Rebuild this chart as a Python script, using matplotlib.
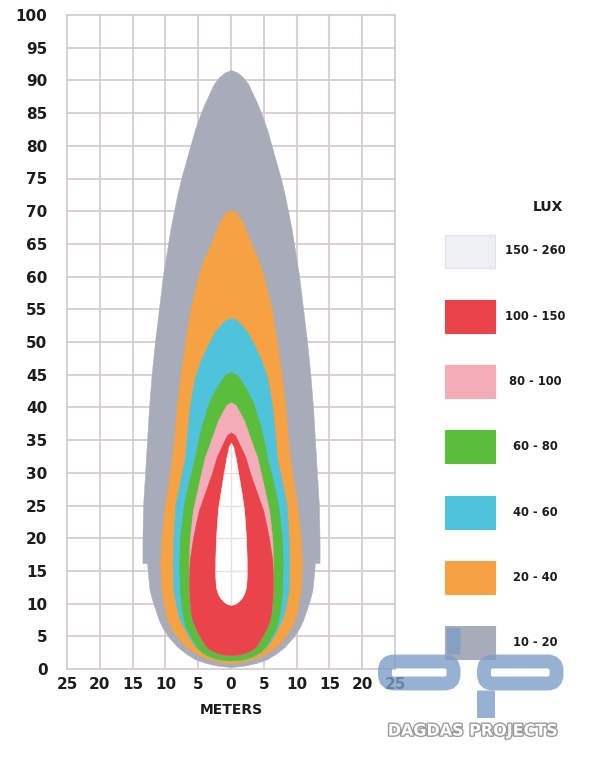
import matplotlib
matplotlib.use("Agg")
import matplotlib.pyplot as plt
import matplotlib.patheffects as pe
from matplotlib.patches import FancyBboxPatch, Rectangle
from matplotlib.transforms import IdentityTransform

# ---------------- data (isolux contours: distance y [m], half-width [m]) ----------------
gray_y  = [91.6, 91.2, 90.5, 89.5, 88.0, 86.5, 85.0, 82.5, 80.0, 77.5, 75.0, 72.5, 70.0, 67.5, 65.0, 62.5, 60.0, 55.0, 50.0, 45.0, 40.0, 35.0, 30.0, 25.0, 20.0, 16.2,
           16.2, 14.0, 12.0, 10.5, 9.0, 7.5, 6.4, 5.0, 3.4, 2.3, 1.5, 0.9, 0.5, 0.3]
gray_hw = [0.0, 1.0, 1.8, 2.6, 3.3, 4.0, 4.6, 5.5, 6.2, 6.9, 7.6, 8.2, 8.7, 9.2, 9.6, 10.0, 10.4, 11.0, 11.6, 12.1, 12.5, 12.8, 13.1, 13.4, 13.5, 13.5,
           12.8, 12.6, 12.4, 12.0, 11.5, 11.0, 10.5, 9.6, 8.2, 6.8, 5.5, 3.8, 2.0, 0.0]

orange_y  = [70.2, 69.8, 69.0, 68.0, 67.0, 65.0, 62.5, 60.0, 57.5, 55.0, 52.5, 50.0, 45.0, 40.0, 35.0, 30.0, 25.0, 20.0, 16.0, 12.0, 9.0, 7.5, 6.4, 5.0, 3.4, 2.5, 1.8, 1.3, 1.0, 0.9]
orange_hw = [0.0, 0.8, 1.4, 1.9, 2.3, 3.1, 4.2, 5.0, 5.6, 6.2, 6.6, 7.0, 7.7, 8.3, 8.7, 9.3, 10.1, 10.6, 10.8, 10.6, 10.1, 9.7, 9.2, 8.3, 6.9, 5.6, 4.2, 2.7, 1.4, 0.0]

cyan_y  = [53.7, 53.3, 52.5, 51.5, 50.0, 47.5, 45.0, 42.5, 40.0, 35.0, 32.4, 28.0, 25.0, 20.0, 16.0, 12.0, 9.0, 7.5, 6.4, 5.0, 3.4, 2.6, 2.0, 1.6, 1.35, 1.3]
cyan_hw = [0.0, 0.9, 1.7, 2.5, 3.3, 4.5, 5.4, 5.9, 6.3, 6.8, 7.0, 7.9, 8.5, 8.8, 8.9, 8.8, 8.2, 7.8, 7.2, 6.5, 5.4, 4.5, 3.5, 2.4, 1.2, 0.0]

green_y  = [45.4, 45.0, 44.0, 42.5, 40.7, 39.0, 37.5, 35.0, 32.4, 28.0, 25.0, 20.0, 16.0, 12.0, 9.0, 7.5, 6.4, 5.0, 3.4, 2.6, 2.0, 1.6, 1.4, 1.3]
green_hw = [0.0, 0.9, 1.6, 2.5, 3.4, 3.9, 4.4, 5.0, 5.5, 6.6, 7.2, 7.8, 7.9, 7.8, 7.5, 7.2, 6.9, 6.2, 5.2, 4.4, 3.4, 2.3, 1.2, 0.0]

pink_y  = [40.8, 40.4, 39.5, 38.0, 36.0, 34.0, 32.4, 28.0, 24.3, 20.0, 16.7, 12.0, 9.0, 6.4, 5.0, 3.4, 2.8, 2.4, 2.15, 2.1]
pink_hw = [0.0, 0.7, 1.2, 2.0, 2.7, 3.4, 4.0, 5.0, 5.8, 6.3, 6.4, 6.4, 6.2, 5.5, 4.8, 3.8, 3.0, 2.0, 1.0, 0.0]

red_y  = [36.2, 35.8, 35.0, 33.5, 32.4, 30.0, 28.0, 26.0, 24.3, 22.0, 20.0, 16.7, 14.0, 12.0, 9.0, 7.5, 6.4, 5.0, 3.4, 2.8, 2.4, 2.15, 2.1]
red_hw = [0.0, 0.6, 1.0, 1.7, 2.2, 2.9, 3.6, 4.3, 4.9, 5.4, 5.8, 6.3, 6.4, 6.4, 6.2, 5.9, 5.5, 4.8, 3.8, 3.0, 2.0, 1.0, 0.0]

hole_y  = [34.6, 34.0, 33.0, 32.4, 30.0, 27.0, 24.3, 20.0, 16.7, 14.0, 12.5, 11.5, 10.8, 10.2, 9.9, 9.8]
hole_hw = [0.0, 0.35, 0.55, 0.7, 1.1, 1.6, 2.0, 2.3, 2.4, 2.4, 2.3, 2.0, 1.6, 1.0, 0.5, 0.0]

lux_labels = ["150 - 260", "100 - 150", "80 - 100", "60 - 80", "40 - 60", "20 - 40", "10 - 20"]
lux_colors = ["#eff0f3", "#e9434b", "#f2adb8", "#5bbd3c", "#4fc3dc", "#f4a242", "#a8acb9"]

x_ticks = [-25, -20, -15, -10, -5, 0, 5, 10, 15, 20, 25]
y_ticks = list(range(0, 101, 5))

# ---------------- figure ----------------
W, H = 606, 764
fig = plt.figure(figsize=(W / 100, H / 100), dpi=100)
fig.patch.set_facecolor("white")

ax = fig.add_axes([67 / W, 1 - 669 / H, 328 / W, 654 / H])
ax.set_xlim(-25, 25)
ax.set_ylim(0, 100)
for s in ax.spines.values():
    s.set_visible(False)

grid_c = "#d3cac7"
for xv in x_ticks:
    ax.axvline(xv, color=grid_c, lw=1.2, zorder=0, clip_on=False)
for yv in y_ticks:
    ax.axhline(yv, color=grid_c, lw=1.2, zorder=0, clip_on=False)

def band(yy, hh, color, z):
    return ax.fill_betweenx(yy, [-h for h in hh], hh, color=color, lw=0.3,
                            edgecolor=color, zorder=z)

band(gray_y, gray_hw, lux_colors[6], 2)
band(orange_y, orange_hw, lux_colors[5], 3)
band(cyan_y, cyan_hw, lux_colors[4], 4)
band(green_y, green_hw, lux_colors[3], 5)
band(pink_y, pink_hw, lux_colors[2], 6)
band(red_y, red_hw, lux_colors[1], 7)
hole = band(hole_y, hole_hw, "white", 8)

# faint grid visible in the central hole
hole_path = hole.get_paths()[0]
for xv in x_ticks:
    ln = ax.axvline(xv, color="#e6dfdc", lw=1.0, zorder=9)
    ln.set_clip_path(hole_path, ax.transData)
for yv in y_ticks:
    ln = ax.axhline(yv, color="#e6dfdc", lw=1.0, zorder=9)
    ln.set_clip_path(hole_path, ax.transData)

ax.set_xticks(x_ticks)
ax.set_xticklabels([str(abs(v)) for v in x_ticks])
ax.set_yticks(y_ticks)
ax.set_yticklabels([str(v) for v in y_ticks])
ax.tick_params(length=0, labelsize=11, colors="#1c1c1c")
ax.tick_params(axis="y", pad=14)
ax.tick_params(axis="x", pad=6)
for lab in ax.get_xticklabels() + ax.get_yticklabels():
    lab.set_fontweight("bold")
ax.set_xlabel("METERS", fontsize=10, fontweight="bold", color="#1c1c1c", labelpad=8)

# ---------------- legend ----------------
fig.text(548 / W, 1 - 207 / H, "LUX", ha="center", va="center",
         fontsize=10, fontweight="bold", color="#1c1c1c")
rect_x0, rect_w, rect_h = 445 / W, 50 / W, 33 / H
for i, (lab, col) in enumerate(zip(lux_labels, lux_colors)):
    cy = 1 - (251 + i * 65.3) / H
    ec = "#e2e3e7" if i == 0 else col
    fig.patches.append(Rectangle((rect_x0, cy - rect_h / 2), rect_w, rect_h,
                                 transform=fig.transFigure, facecolor=col,
                                 edgecolor=ec, lw=0.8))
    fig.text(535 / W, cy, lab, ha="center", va="center", fontsize=8.3,
             fontweight="bold", color="#1c1c1c")

# ---------------- watermark (logo drawn in pixel coordinates) ----------------
logo_c = "#7c9ec6"
ident = IdentityTransform()
def px_box(x0, y0, x1, y1, filled, r=8, lw=9):
    # y measured from top of the image
    b = FancyBboxPatch((x0, H - y1), x1 - x0, y1 - y0,
                       boxstyle="round,pad=0,rounding_size=%g" % r,
                       transform=ident,
                       facecolor=logo_c if filled else "none",
                       edgecolor=logo_c if not filled else "none",
                       lw=0 if filled else lw,
                       alpha=0.8, zorder=20)
    fig.patches.append(b)

px_box(385, 661.5, 453.5, 683.5, False, r=9, lw=10)   # d bowl
px_box(447, 628, 460.5, 654.5, True, r=1)             # d stem (above bowl)
px_box(484, 661.5, 556.5, 683.5, False, r=9, lw=10)   # p bowl
px_box(477, 690.5, 495, 718, True, r=1)               # p stem (below bowl)

fig.text(473 / W, 1 - 731 / H, "DAGDAS PROJECTS", ha="center", va="center",
         fontsize=11.5, fontweight="bold", color="white",
         path_effects=[pe.withStroke(linewidth=2, foreground="#9a9a9a")])

fig.savefig("out.png", dpi=100)
